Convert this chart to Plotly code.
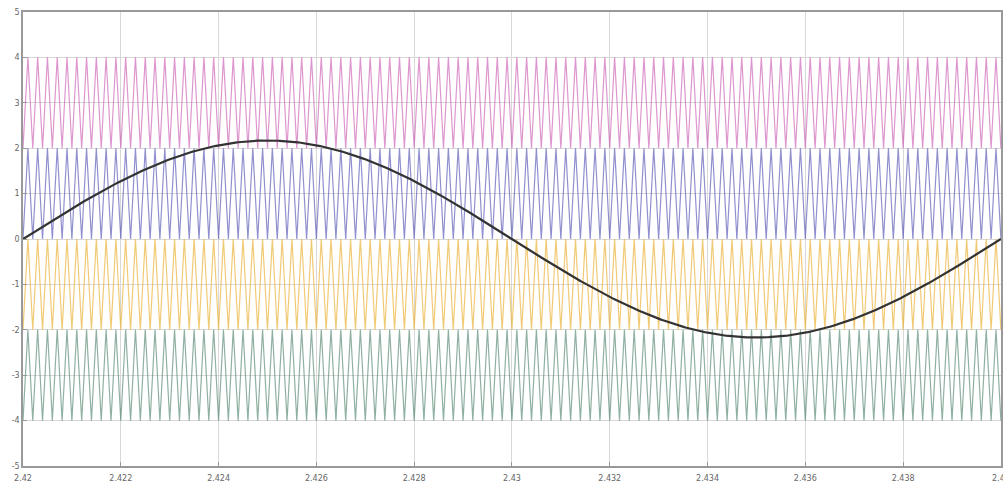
import numpy as np
import plotly.graph_objects as go

# Data / parameters
t_start = 2.42
t_end = 2.44
carrier_freq = 5000          # Hz (about 100 triangles over 0.02 s)
carrier_bands = [(2, 4), (0, 2), (-2, 0), (-4, -2)]
carrier_names = ["Carrier 1", "Carrier 2", "Carrier 3", "Carrier 4"]
carrier_colors = ["rgba(200,80,175,0.6)", "rgba(70,70,175,0.6)",
                  "rgba(235,180,60,0.7)", "rgba(70,125,100,0.6)"]
ref_amplitude = 2.17
ref_freq = 50                # Hz
x_ticks = [2.42, 2.422, 2.424, 2.426, 2.428, 2.43, 2.432, 2.434, 2.436, 2.438, 2.44]
x_tick_text = ["2.42", "2.422", "2.424", "2.426", "2.428", "2.43", "2.432", "2.434", "2.436", "2.438", "2.44"]
y_ticks = [-5, -4, -3, -2, -1, 0, 1, 2, 3, 4, 5]
y_tick_text = ["-5", "-4", "-3", "-2", "-1", "0", "1", "2", "3", "4", "5"]

fig = go.Figure()

# triangle carriers: vertices every half period
half = 0.5 / carrier_freq
n_half = int(round((t_end - t_start) / half))
tv = t_start + half * np.arange(n_half + 1)
for (lo, hi), name, col in zip(carrier_bands, carrier_names, carrier_colors):
    yv = np.where(np.arange(n_half + 1) % 2 == 0, lo, hi)
    fig.add_trace(go.Scatter(x=tv, y=yv, mode="lines", name=name,
                             line=dict(color=col, width=1.2), showlegend=False))

ts = np.linspace(t_start, t_end, 801)
fig.add_trace(go.Scatter(x=ts, y=ref_amplitude * np.sin(2 * np.pi * ref_freq * (ts - t_start)),
                         mode="lines", name="Reference",
                         line=dict(color="#333333", width=2.2), showlegend=False))

fig.update_layout(
    width=1003, height=487,
    margin=dict(l=23, r=2, t=12, b=21),
    paper_bgcolor="white", plot_bgcolor="white",
    font=dict(family="DejaVu Sans", size=8, color="#666"),
)
fig.update_xaxes(range=[t_start, t_end + 0.000002], tickvals=x_ticks, ticktext=x_tick_text,
                 showgrid=True, gridcolor="#d8d8d8", gridwidth=1,
                 showline=True, linecolor="#999", linewidth=1.5, mirror=True,
                 ticks="inside", ticklen=4, tickcolor="#999", zeroline=False,
                 automargin=False, ticklabelstandoff=4, ticklabeloverflow="allow")
fig.update_yaxes(range=[-5, 5], tickvals=y_ticks, ticktext=y_tick_text,
                 showgrid=True, gridcolor="#d8d8d8", gridwidth=1,
                 showline=True, linecolor="#999", linewidth=1.5, mirror=True,
                 ticks="inside", ticklen=4, tickcolor="#999", zeroline=False,
                 automargin=False, ticklabeloverflow="allow")

fig.write_html("out.html")
